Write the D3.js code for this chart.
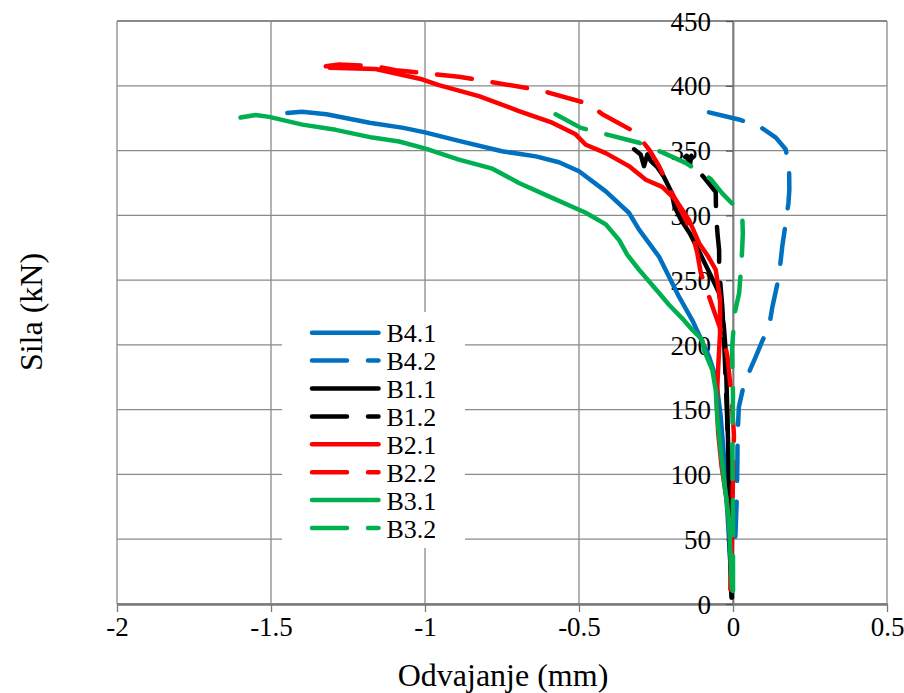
<!DOCTYPE html>
<html>
<head>
<meta charset="utf-8">
<script src="https://cdn.jsdelivr.net/npm/d3@7"></script>
<style>
  html, body { margin: 0; padding: 0; background: #fff; }
  svg { display: block; }
  svg text { font-family: "Liberation Serif", "Times New Roman", Times, serif !important; }
</style>
</head>
<body>
<svg id="chart" width="904" height="693"></svg>
<script>
// ---- data: [displacement (mm), force (kN)] ----
const B41 = [[-1.447,379],[-1.40,380],[-1.32,378],[-1.18,371.5],[-1.07,367.5],[-1.00,364],[-0.89,357.5],[-0.75,349.5],[-0.64,345.5],[-0.565,341],[-0.50,334],[-0.413,318.5],[-0.338,302],[-0.305,289],[-0.24,268],[-0.175,237],[-0.132,219],[-0.078,191],[-0.056,175],[-0.04,145],[-0.028,110],[-0.018,70],[-0.008,30],[-0.003,10]];
const B42 = [[-0.078,379.5],[0.019,374],[0.084,369],[0.139,360],[0.171,351],[0.182,338],[0.183,320],[0.18,309.5],[0.171,294],[0.16,276],[0.149,252.5],[0.128,229.5],[0.117,214],[0.095,203],[0.074,191],[0.036,170],[0.019,152],[0.015,131],[0.014,105],[0.012,80],[0.008,54],[0.003,36]];
const B11 = [[-0.005,5],[-0.01,40],[-0.013,95],[-0.018,144],[-0.024,196],[-0.03,215],[-0.045,240],[-0.075,255],[-0.11,272],[-0.14,286],[-0.17,297],[-0.19,307],[-0.2,318],[-0.225,330],[-0.245,337],[-0.267,342],[-0.278,347],[-0.289,338],[-0.30,347],[-0.321,351]];
const B12 = [[-0.003,5],[-0.008,40],[-0.012,95],[-0.02,150],[-0.029,204],[-0.035,230],[-0.045,258],[-0.045,273],[-0.05,285],[-0.055,300],[-0.056,318],[-0.09,328],[-0.115,335],[-0.13,342],[-0.135,346],[-0.14,339],[-0.15,346],[-0.155,345]];
const B21 = [[-1.31,414],[-1.16,413],[-1.01,405],[-0.955,400.5],[-0.825,392],[-0.695,380.5],[-0.587,371.5],[-0.511,362.5],[-0.478,354.5],[-0.413,348],[-0.338,338],[-0.283,327.5],[-0.23,322],[-0.186,312],[-0.143,296.5],[-0.11,278.5],[-0.08,268],[-0.056,258],[-0.042,235],[-0.042,209],[-0.048,183],[-0.053,157],[-0.048,132],[-0.037,106],[-0.02,80],[-0.01,55],[-0.007,29],[-0.008,11]];
const B22 = [[-1.322,415],[-1.279,416.5],[-1.16,415],[-1.095,412],[-0.89,407],[-0.825,404.5],[-0.662,398],[-0.603,395],[-0.468,386],[-0.424,378],[-0.316,364],[-0.27,350],[-0.24,338],[-0.208,322],[-0.165,302],[-0.132,286],[-0.116,271],[-0.105,256],[-0.089,245],[-0.06,225],[-0.03,205],[-0.018,191],[-0.005,160],[0.003,131],[0.0,100],[-0.002,70],[-0.004,40],[-0.008,12]];
const B31 = [[-1.599,375.5],[-1.55,377.5],[-1.506,376],[-1.398,370],[-1.29,366],[-1.171,360],[-1.084,357],[-0.998,351.5],[-0.89,343],[-0.781,336],[-0.695,325],[-0.587,313.5],[-0.478,302],[-0.413,293],[-0.37,281],[-0.343,269.5],[-0.305,258],[-0.24,240],[-0.208,231],[-0.165,220.5],[-0.132,211.5],[-0.1,204],[-0.094,196],[-0.067,180.5],[-0.056,165],[-0.051,144],[-0.04,118.5],[-0.029,95],[-0.013,64],[-0.008,36],[-0.004,12]];
const B32 = [[0.0,10],[0.0,60],[-0.002,120],[0.0,160],[-0.003,197],[0.005,224],[0.02,240],[0.028,265],[0.032,286],[0.03,300],[0.014,305],[-0.035,317],[-0.072,328],[-0.154,340.5],[-0.224,348],[-0.305,356],[-0.435,364],[-0.494,367.5],[-0.576,378]];

const seriesNames = ["B4.1","B4.2","B1.1","B1.2","B2.1","B2.2","B3.1","B3.2"];
const seriesData  = [B41, B42, B11, B12, B21, B22, B31, B32];
const seriesColor = ["#0070C0","#0070C0","#000000","#000000","#FF0000","#FF0000","#00B050","#00B050"];
const seriesDashed = [false,true,false,true,false,true,false,true];

const xTicks = [-2,-1.5,-1,-0.5,0,0.5];
const yTicks = [0,50,100,150,200,250,300,350,400,450];
const xTitle = "Odvajanje (mm)";
const yTitle = "Sila (kN)";

// ---- layout ----
const FONT = "Liberation Serif";
const svg = d3.select("#chart");
const x = d3.scaleLinear().domain([-2, 0.5]).range([117, 887]);
const y = d3.scaleLinear().domain([0, 450]).range([604, 21]);
const gridColor = "#8a8a8a";
const DASH = "35,21";

function serif(sel, size) {
  sel.attr("font-family", FONT).style("font-family", FONT, "important")
     .attr("font-size", size).style("font-size", size + "px");
  return sel;
}

// gridlines
svg.append("g").selectAll("line").data(xTicks).join("line")
  .attr("x1", d => x(d)).attr("x2", d => x(d))
  .attr("y1", y(450)).attr("y2", y(0))
  .attr("stroke", gridColor).attr("stroke-width", 1.3);
svg.append("g").selectAll("line").data(yTicks).join("line")
  .attr("x1", x(-2)).attr("x2", x(0.5))
  .attr("y1", d => y(d)).attr("y2", d => y(d))
  .attr("stroke", gridColor).attr("stroke-width", d => d === 450 ? 2 : 1.3);

// x axis (bottom)
const xAxis = d3.axisBottom(x).tickValues(xTicks).tickSize(8).tickSizeOuter(0)
  .tickFormat(d => String(d));
const gx = svg.append("g").attr("transform", `translate(0,${y(0)})`).call(xAxis);
gx.attr("font-family", null).attr("font-size", null);
gx.select(".domain").attr("stroke", "#7a7a7a").attr("stroke-width", 2.5);
gx.selectAll(".tick line").attr("stroke", "#7a7a7a").attr("stroke-width", 1.3);
serif(gx.selectAll(".tick text"), 27).attr("fill", "#000").attr("y", 13).attr("dy", "0.71em");

// y axis at x = 0
const yAxis = d3.axisLeft(y).tickValues(yTicks).tickSize(7).tickSizeOuter(0)
  .tickFormat(d => String(d));
const gy = svg.append("g").attr("transform", `translate(${x(0)},0)`).call(yAxis);
gy.attr("font-family", null).attr("font-size", null);
gy.select(".domain").attr("stroke", "#7a7a7a").attr("stroke-width", 1.8);
gy.selectAll(".tick line").attr("stroke", "#555").attr("stroke-width", 1.3);
serif(gy.selectAll(".tick text"), 27).attr("fill", "#000").attr("x", -22).attr("dy", "0.34em");

// series
const line = d3.line().x(d => x(d[0])).y(d => y(d[1])).curve(d3.curveLinear);
const gs = svg.append("g");
seriesData.forEach((data, i) => {
  gs.append("path").datum(data)
    .attr("d", line)
    .attr("fill", "none")
    .attr("stroke", seriesColor[i])
    .attr("stroke-width", 4.5)
    .attr("stroke-linecap", "round")
    .attr("stroke-linejoin", "round")
    .attr("stroke-dasharray", seriesDashed[i] ? DASH : null);
});

// legend
const lg = svg.append("g");
lg.append("rect").attr("x", 282).attr("y", 312).attr("width", 183).attr("height", 236).attr("fill", "#fff");
seriesNames.forEach((name, i) => {
  const ry = 332.7 + i * 27.9;
  lg.append("line").attr("x1", 312).attr("x2", 378.5).attr("y1", ry).attr("y2", ry)
    .attr("stroke", seriesColor[i]).attr("stroke-width", 4.5).attr("stroke-linecap", "round")
    .attr("stroke-dasharray", seriesDashed[i] ? DASH : null);
  serif(lg.append("text"), 26).attr("x", 386.5).attr("y", ry + 9.5).attr("fill", "#000").text(name);
});

// titles
serif(svg.append("text"), 32).attr("x", 503).attr("y", 686).attr("text-anchor", "middle")
  .attr("fill", "#000").text(xTitle);
serif(svg.append("text"), 32).attr("transform", "translate(42,312) rotate(-90)").attr("text-anchor", "middle")
  .attr("fill", "#000").text(yTitle);
</script>
</body>
</html>
